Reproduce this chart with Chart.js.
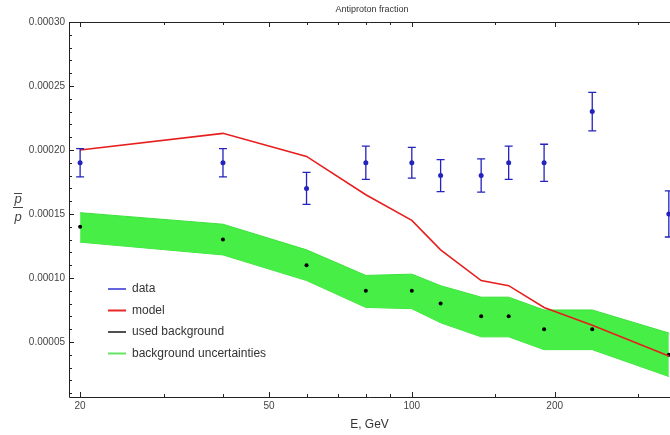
<!DOCTYPE html>
<html>
<head>
<meta charset="utf-8">
<script src="https://cdn.jsdelivr.net/npm/chart.js@4.4.1/dist/chart.umd.min.js"></script>
<style>
  body { margin: 0; background: #fff; }
  canvas { display: block; }
</style>
</head>
<body>
<canvas id="chart" width="670" height="435"></canvas>
<script>
// energies (GeV) and measured antiproton fraction
const energy = [20, 40, 60, 80, 100, 115, 140, 160, 190, 240, 348];
const fraction = [0.00019, 0.00019, 0.00017, 0.00019, 0.00019, 0.00018, 0.00018, 0.00019, 0.00019, 0.00023, 0.00015];
const fractionErr = [0.000011, 0.000011, 0.0000125, 0.000013, 0.000012, 0.0000125, 0.000013, 0.000013, 0.0000145, 0.000015, 0.000018];
const model = [0.0002, 0.000213, 0.000195, 0.000165, 0.000145, 0.000122, 0.000098, 0.000094, 0.000077, 0.000063, 0.000039];
const background = [0.00014, 0.00013, 0.00011, 0.00009, 0.00009, 0.00008, 0.00007, 0.00007, 0.00006, 0.00006, 0.00004];
const bgUpper = [0.000151, 0.000142, 0.000122, 0.000102, 0.000103, 0.000094, 0.000085, 0.000085, 0.000075, 0.000075, 0.000057];
const bgLower = [0.000128, 0.000118, 0.000098, 0.000077, 0.000076, 0.000065, 0.000054, 0.000054, 0.000044, 0.000044, 0.000023];

const xMajorTicks = [20, 50, 100, 200];
const xMinorTicks = [30, 40, 60, 70, 80, 90, 150, 300];
const yMajorTicks = [0.00005, 0.0001, 0.00015, 0.0002, 0.00025, 0.0003];
const yMinorTicks = [0.00001, 0.00002, 0.00003, 0.00004, 0.00006, 0.00007, 0.00008, 0.00009,
  0.00011, 0.00012, 0.00013, 0.00014, 0.00016, 0.00017, 0.00018, 0.00019,
  0.00021, 0.00022, 0.00023, 0.00024, 0.00026, 0.00027, 0.00028, 0.00029];

const legendItems = [
  { text: "data", color: "rgb(100,100,220)" },
  { text: "model", color: "rgb(230,40,40)" },
  { text: "used background", color: "rgb(80,80,80)" },
  { text: "background uncertainties", color: "rgb(100,230,100)" }
];

const pts = ys => energy.map((e, i) => ({ x: e, y: ys[i] }));
const FONT = "'Liberation Sans', Arial, sans-serif";

const extras = {
  id: "extras",
  afterDatasetsDraw(chart) {
    const { ctx, chartArea: a, scales: { x, y } } = chart;
    ctx.save();

    // error bars
    ctx.strokeStyle = "rgb(35,35,190)";
    ctx.lineWidth = 1.3;
    energy.forEach((e, i) => {
      const px = x.getPixelForValue(e);
      const top = y.getPixelForValue(fraction[i] + fractionErr[i]);
      const bot = y.getPixelForValue(fraction[i] - fractionErr[i]);
      ctx.beginPath();
      ctx.moveTo(px, top); ctx.lineTo(px, bot);
      ctx.moveTo(px - 4, top); ctx.lineTo(px + 4, top);
      ctx.moveTo(px - 4, bot); ctx.lineTo(px + 4, bot);
      ctx.stroke();
    });

    // frame
    ctx.strokeStyle = "#222";
    ctx.lineWidth = 1;
    ctx.beginPath();
    ctx.moveTo(a.right, a.top + 0.5); ctx.lineTo(a.left + 0.5, a.top + 0.5);
    ctx.lineTo(a.left + 0.5, a.bottom + 0.5); ctx.lineTo(a.right, a.bottom + 0.5);
    ctx.stroke();

    // ticks
    ctx.beginPath();
    const yTick = (v, len) => {
      const py = Math.round(y.getPixelForValue(v)) + 0.5;
      ctx.moveTo(a.left, py); ctx.lineTo(a.left + len, py);
    };
    const xTick = (v, len) => {
      const px = Math.round(x.getPixelForValue(v)) + 0.5;
      ctx.moveTo(px, a.bottom); ctx.lineTo(px, a.bottom - len);
      ctx.moveTo(px, a.top); ctx.lineTo(px, a.top + len);
    };
    yMajorTicks.forEach(v => yTick(v, 5));
    yMinorTicks.forEach(v => yTick(v, 3));
    xMajorTicks.forEach(v => xTick(v, 5));
    xMinorTicks.forEach(v => xTick(v, 3));
    ctx.stroke();
    ctx.restore();
  },
  afterDraw(chart) {
    const { ctx } = chart;
    ctx.save();

    // title
    ctx.fillStyle = "#333";
    ctx.font = "9px " + FONT;
    ctx.textAlign = "center";
    ctx.textBaseline = "middle";
    ctx.fillText("Antiproton fraction", 372, 10);

    // y axis title: p-bar over p
    ctx.font = "italic 13px " + FONT;
    ctx.textBaseline = "alphabetic";
    ctx.fillStyle = "#444";
    ctx.fillText("p", 18, 203);
    ctx.fillText("p", 18, 221);
    ctx.strokeStyle = "#444";
    ctx.lineWidth = 1;
    ctx.beginPath();
    ctx.moveTo(14, 193.5); ctx.lineTo(22, 193.5);
    ctx.moveTo(13, 207.5); ctx.lineTo(23, 207.5);
    ctx.stroke();

    // legend
    ctx.font = "12px " + FONT;
    ctx.textAlign = "left";
    ctx.textBaseline = "middle";
    legendItems.forEach((item, i) => {
      const ly = 289 + i * 21.5;
      ctx.strokeStyle = item.color;
      ctx.lineWidth = 2;
      ctx.beginPath();
      ctx.moveTo(108, ly); ctx.lineTo(126, ly);
      ctx.stroke();
      ctx.fillStyle = "#333";
      ctx.fillText(item.text, 132, ly);
    });
    ctx.restore();
  }
};

new Chart(document.getElementById("chart").getContext("2d"), {
  type: "line",
  data: {
    datasets: [
      {
        label: "data",
        data: pts(fraction),
        showLine: false,
        pointRadius: 2.5,
        pointBackgroundColor: "rgb(35,35,190)",
        pointBorderWidth: 0
      },
      {
        label: "model",
        data: pts(model),
        borderColor: "rgb(230,30,30)",
        borderWidth: 1.6,
        pointRadius: 0,
        tension: 0
      },
      {
        label: "used background",
        data: pts(background),
        showLine: false,
        pointRadius: 2,
        pointBackgroundColor: "#000",
        pointBorderWidth: 0
      },
      {
        label: "background uncertainties",
        data: pts(bgUpper),
        borderColor: "rgb(60,225,60)",
        backgroundColor: "rgb(70,238,70)",
        borderWidth: 1,
        pointRadius: 0,
        fill: "+1",
        tension: 0
      },
      {
        label: "lower",
        data: pts(bgLower),
        borderColor: "rgb(60,225,60)",
        borderWidth: 1,
        pointRadius: 0,
        fill: false,
        tension: 0
      }
    ]
  },
  options: {
    responsive: false,
    animation: false,
    clip: false,
    layout: { autoPadding: false, padding: { top: 22, right: 0, bottom: 0, left: 0 } },
    plugins: {
      legend: { display: false },
      title: { display: false },
      tooltip: { enabled: false }
    },
    scales: {
      x: {
        type: "logarithmic",
        min: 18.95,
        max: 350,
        grid: { display: false, drawTicks: false },
        border: { display: false },
        afterBuildTicks: s => { s.ticks = xMajorTicks.map(v => ({ value: v })); },
        afterFit: s => { s.height = 38; },
        ticks: {
          autoSkip: false,
          maxRotation: 0,
          padding: 3,
          color: "#444",
          font: { family: FONT, size: 10 },
          callback: v => String(v)
        },
        title: {
          display: true,
          text: "E, GeV",
          color: "#333",
          font: { family: FONT, size: 12 },
          padding: { top: 0, bottom: 3 }
        }
      },
      y: {
        min: 0.000007,
        max: 0.0003,
        grid: { display: false, drawTicks: false },
        border: { display: false },
        afterBuildTicks: s => { s.ticks = yMajorTicks.map(v => ({ value: v })); },
        afterFit: s => { s.width = 69; },
        ticks: {
          padding: 4,
          color: "#444",
          font: { family: FONT, size: 10 },
          callback: v => v.toFixed(5)
        }
      }
    }
  },
  plugins: [extras]
});
</script>
</body>
</html>
